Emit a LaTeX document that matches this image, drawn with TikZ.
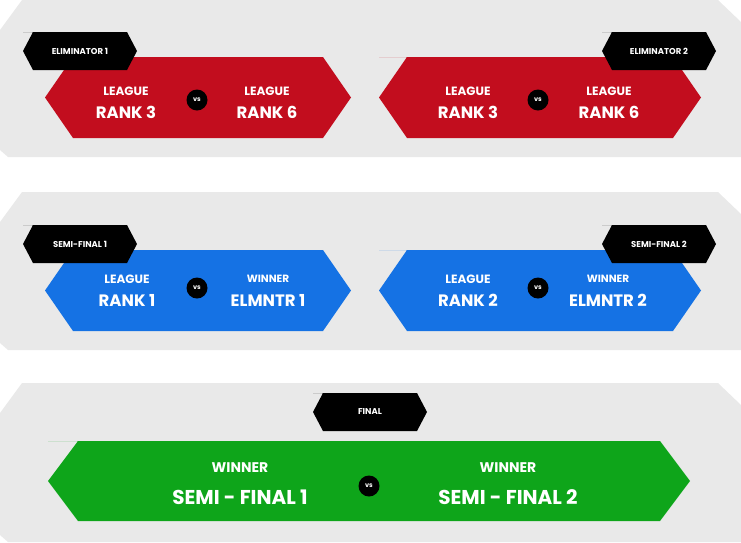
\documentclass[tikz,border=0pt]{standalone}
\usepackage{fontspec}
\setmainfont{Poppins}
\definecolor{panelgray}{HTML}{E9E9E9}
\definecolor{elimred}{HTML}{C20D1E}
\definecolor{semiblue}{HTML}{1572E4}
\definecolor{finalgreen}{HTML}{0EA51A}
% hexagon band: x1, x2, y1, y2, point depth, colour
\newcommand{\hexband}[6]{\fill[#6] (#1,#3) -- (#1+#5,#3) ++(0,0) -- (#2-#5,#3) -- (#2,{(#3+#4)/2}) -- (#2-#5,#4) -- (#1+#5,#4) -- (#1,{(#3+#4)/2}) -- (#1+#5,#3) -- cycle;}
\newcommand{\panel}[2]{\fill[panelgray] (0,#1+30) -- (22,#1) -- (718,#1) -- (741,#1+22) -- (741,#2) -- (8,#2) -- (0,#2-7) -- cycle;}
\begin{document}
\begin{tikzpicture}[x=1pt,y=-1pt,
    tag/.style = {text=white, font=\bfseries\fontsize{8.5}{9}\selectfont},
    top/.style = {text=white, font=\bfseries\fontsize{12}{13}\selectfont},
    bot/.style = {text=white, font=\bfseries\fontsize{16.5}{18}\selectfont},
    vs/.style = {circle, fill=black, minimum size=21pt, inner sep=0pt, text=white, font=\bfseries\fontsize{6.5}{7}\selectfont}]
    \useasboundingbox (0,0) rectangle (741,542);
    % panels
    \panel{0}{157}
    \panel{192}{350}
    \panel{383}{542}
    % eliminators
    \hexband{45}{351}{57}{138}{28}{elimred}
    \hexband{379}{701}{57}{138}{28}{elimred}
    \hexband{23}{137}{32}{70}{10}{black}
    \hexband{602}{716}{32}{70}{10}{black}
    \node[tag] (e1) at (80,51) {ELIMINATOR 1};
    \node[tag] (e2) at (659,51) {ELIMINATOR 2};
    \node[top] (a1) at (126,91) {LEAGUE};
    \node[bot] (a2) at (126,112) {RANK 3};
    \node[vs] (v1) at (197,100) {vs};
    \node[top] (b1) at (267,91) {LEAGUE};
    \node[bot] (b2) at (267,112) {RANK 6};
    \node[top] (c1) at (468,91) {LEAGUE};
    \node[bot] (c2) at (468,112) {RANK 3};
    \node[vs] (v2) at (538,100) {vs};
    \node[top] (d1) at (609,91) {LEAGUE};
    \node[bot] (d2) at (609,112) {RANK 6};
    % semi-finals
    \hexband{45}{351}{250}{331}{28}{semiblue}
    \hexband{379}{701}{250}{331}{28}{semiblue}
    \hexband{23}{137}{225}{263}{10}{black}
    \hexband{602}{716}{225}{263}{10}{black}
    \node[tag] (s1) at (80,244) {SEMI-FINAL 1};
    \node[tag] (s2) at (659,244) {SEMI-FINAL 2};
    \node[top] (f1) at (127,279) {LEAGUE};
    \node[bot] (f2) at (127,300) {RANK 1};
    \node[vs] (v3) at (197,288) {vs};
    \node[top, font=\bfseries\fontsize{10.5}{11}\selectfont] (g1) at (268,279) {WINNER};
    \node[bot] (g2) at (268,300) {ELMNTR 1};
    \node[top] (h1) at (468,279) {LEAGUE};
    \node[bot] (h2) at (468,300) {RANK 2};
    \node[vs] (v4) at (538,288) {vs};
    \node[top, font=\bfseries\fontsize{10.5}{11}\selectfont] (k1) at (608,279) {WINNER};
    \node[bot] (k2) at (608,300) {ELMNTR 2};
    % final
    \hexband{48}{690}{441}{521}{30}{finalgreen}
    \hexband{313}{427}{393}{431}{10}{black}
    \node[tag] (fin) at (370,412) {FINAL};
    \node[top, font=\bfseries\fontsize{14}{15}\selectfont] (m1) at (240,468) {WINNER};
    \node[bot, font=\bfseries\fontsize{20}{22}\selectfont] (m2) at (240,497) {SEMI - FINAL 1};
    \node[vs] (v5) at (369,486) {vs};
    \node[top, font=\bfseries\fontsize{14}{15}\selectfont] (n1) at (508,468) {WINNER};
    \node[bot, font=\bfseries\fontsize{20}{22}\selectfont] (n2) at (508,497) {SEMI - FINAL 2};
\end{tikzpicture}
\end{document}
